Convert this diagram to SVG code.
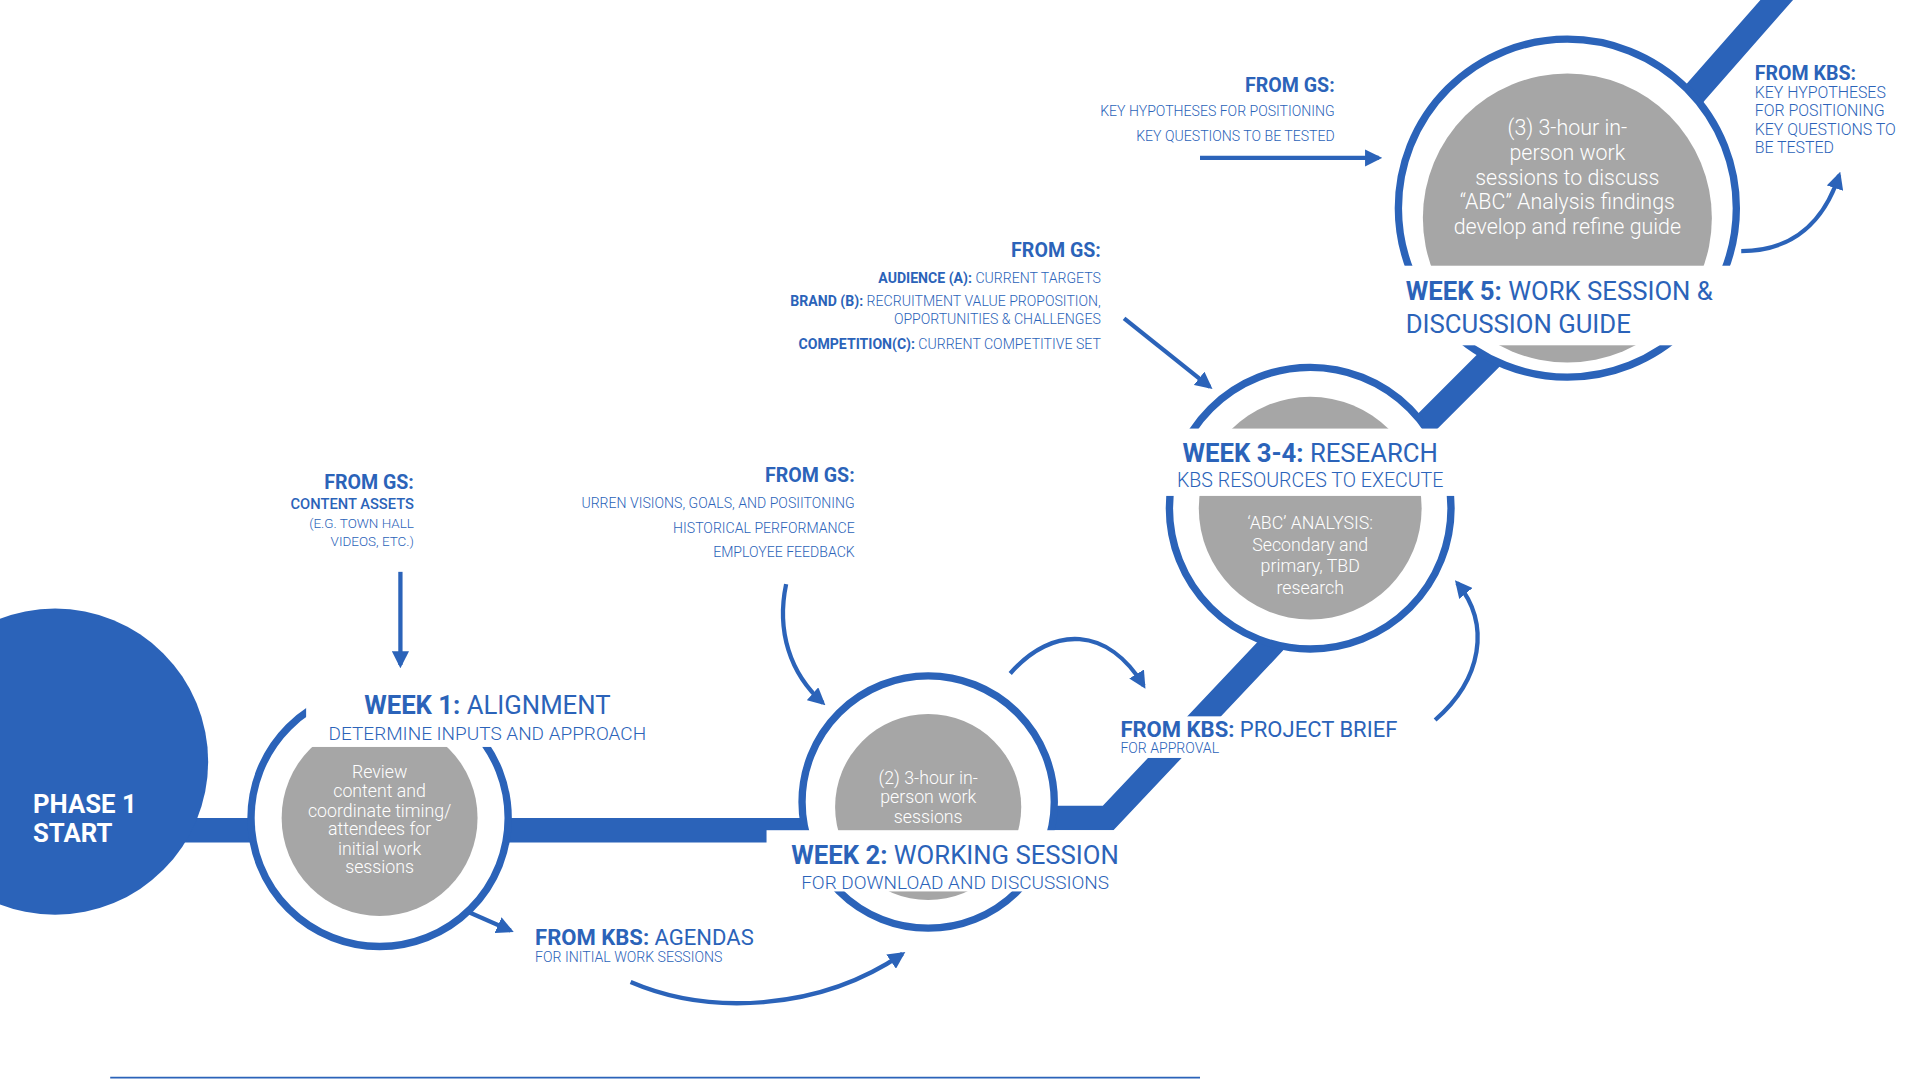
<svg xmlns="http://www.w3.org/2000/svg" width="1920" height="1080" viewBox="0 0 1920 1080">
<defs>
<marker id="ah" viewBox="0 0 10 10" refX="8" refY="5" markerWidth="4" markerHeight="4" orient="auto" markerUnits="strokeWidth"><path d="M0,0 L10,5 L0,10 Z" fill="#2b63b9"/></marker>
<style>
text{font-family:Roboto,"Liberation Sans",sans-serif;fill:#2b63b9}
.b{font-weight:700}
.l{font-weight:300}
.ring{fill:#fff;stroke:#2b63b9;stroke-width:6}
.disc{fill:#a6a6a6}
.wt{fill:#fff;font-weight:300}
.arr{fill:none;stroke:#2b63b9;stroke-width:3.5;marker-end:url(#ah)}
.r{text-anchor:end}
.c{text-anchor:middle}
</style>
</defs>
<rect width="1920" height="1080" fill="#fff"/>
<g transform="scale(1.2245)">
<g id="track">
<path d="M150,678 H660 M855,668 H905 L1040,525 L1165,345 L1225,285 L1385,75 L1458,-8" fill="none" stroke="#2b63b9" stroke-width="20"/>
</g>
<g id="phase1">
<circle cx="45" cy="622" r="125" fill="#2b63b9"/>
<text x="27" y="664" class="b" font-size="21" style="fill:#fff">PHASE 1</text>
<text x="27" y="688" class="b" font-size="21" style="fill:#fff">START</text>
</g>
<g id="week1">
<circle cx="310" cy="668" r="105" class="ring"/>
<circle cx="310" cy="668" r="80" class="disc"/>
<rect x="250" y="558" width="300" height="52" fill="#fff"/>
<text x="398" y="583" class="c" font-size="21"><tspan class="b">WEEK 1:</tspan> ALIGNMENT</text>
<text x="398" y="604" class="c l" font-size="15.5">DETERMINE INPUTS AND APPROACH</text>
<g class="wt" font-size="14.5" text-anchor="middle">
<text x="310" y="635" class="wt">Review</text>
<text x="310" y="651" class="wt">content and</text>
<text x="310" y="667" class="wt">coordinate timing/</text>
<text x="310" y="682" class="wt">attendees for</text>
<text x="310" y="698" class="wt">initial work</text>
<text x="310" y="713" class="wt">sessions</text>
</g>
</g>
<g id="week2">
<circle cx="758" cy="655" r="103" class="ring"/>
<circle cx="758" cy="659" r="76" class="disc"/>
<rect x="626" y="678" width="306" height="50" fill="#fff"/>
<text x="780" y="706" class="c" font-size="21"><tspan class="b">WEEK 2:</tspan> WORKING SESSION</text>
<text x="780" y="726" class="c l" font-size="15.5">FOR DOWNLOAD AND DISCUSSIONS</text>
<g font-size="14.5" text-anchor="middle">
<text x="758" y="640" class="wt">(2) 3-hour in-</text>
<text x="758" y="656" class="wt">person work</text>
<text x="758" y="672" class="wt">sessions</text>
</g>
</g>
<g id="week34">
<circle cx="1070" cy="415" r="115" class="ring"/>
<circle cx="1070" cy="415" r="91" class="disc"/>
<rect x="943" y="350" width="254" height="55" fill="#fff"/>
<text x="1070" y="377" class="c" font-size="21"><tspan class="b">WEEK 3-4:</tspan> RESEARCH</text>
<text x="1070" y="398" class="c l" font-size="16">KBS RESOURCES  TO EXECUTE</text>
<g font-size="14.5" text-anchor="middle">
<text x="1070" y="432" class="wt">‘ABC’ ANALYSIS:</text>
<text x="1070" y="450" class="wt">Secondary and</text>
<text x="1070" y="467" class="wt">primary, TBD</text>
<text x="1070" y="485" class="wt">research</text>
</g>
</g>
<g id="week5">
<circle cx="1280" cy="170" r="138" class="ring"/>
<circle cx="1280" cy="178" r="118" class="disc"/>
<rect x="1132" y="217" width="300" height="65" fill="#fff"/>
<text x="1148" y="245" font-size="21"><tspan class="b">WEEK 5:</tspan> WORK SESSION &amp;</text>
<text x="1148" y="272" font-size="21">DISCUSSION GUIDE</text>
<g font-size="17.5" text-anchor="middle">
<text x="1280" y="110" class="wt">(3) 3-hour in-</text>
<text x="1280" y="131" class="wt">person work</text>
<text x="1280" y="151" class="wt">sessions to discuss</text>
<text x="1280" y="171" class="wt">“ABC” Analysis findings</text>
<text x="1280" y="191" class="wt">develop and refine guide</text>
</g>
</g>
<g id="gs-week1">
<text x="338" y="399" class="r b" font-size="16">FROM GS:</text>
<text x="338" y="416" class="r" font-size="12" font-weight="500">CONTENT ASSETS</text>
<text x="338" y="431" class="r l" font-size="11">(E.G. TOWN HALL</text>
<text x="338" y="446" class="r l" font-size="11">VIDEOS, ETC.)</text>
</g>
<g id="gs-week2">
<text x="698" y="394" class="r b" font-size="16">FROM GS:</text>
<text x="698" y="415" class="r l" font-size="11.5">URREN VISIONS, GOALS, AND POSIITONING</text>
<text x="698" y="435" class="r l" font-size="11.5">HISTORICAL PERFORMANCE</text>
<text x="698" y="455" class="r l" font-size="11.5">EMPLOYEE FEEDBACK</text>
</g>
<g id="gs-week34">
<text x="899" y="210" class="r b" font-size="16">FROM GS:</text>
<text x="899" y="231" class="r l" font-size="11.5"><tspan font-weight="700">AUDIENCE (A):</tspan> CURRENT TARGETS</text>
<text x="899" y="250" class="r l" font-size="11.5"><tspan font-weight="700">BRAND (B):</tspan> RECRUITMENT VALUE PROPOSITION,</text>
<text x="899" y="265" class="r l" font-size="11.5">OPPORTUNITIES &amp; CHALLENGES</text>
<text x="899" y="285" class="r l" font-size="11.5"><tspan font-weight="700">COMPETITION(C):</tspan>  CURRENT COMPETITIVE SET</text>
</g>
<g id="gs-week5">
<text x="1090" y="75" class="r b" font-size="16">FROM GS:</text>
<text x="1090" y="95" class="r l" font-size="11.5">KEY HYPOTHESES FOR POSITIONING</text>
<text x="1090" y="115" class="r l" font-size="11.5">KEY QUESTIONS TO BE TESTED</text>
</g>
<g id="kbs-week5">
<text x="1433" y="65" class="b" font-size="16">FROM KBS:</text>
<text x="1433" y="80" class="l" font-size="13">KEY HYPOTHESES</text>
<text x="1433" y="95" class="l" font-size="13">FOR POSITIONING</text>
<text x="1433" y="110" class="l" font-size="13">KEY QUESTIONS TO</text>
<text x="1433" y="125" class="l" font-size="13">BE TESTED</text>
</g>
<g id="kbs-agendas">
<text x="437" y="772" font-size="18"><tspan class="b">FROM KBS:</tspan> AGENDAS</text>
<text x="437" y="786" class="l" font-size="11.5">FOR INITIAL WORK SESSIONS</text>
</g>
<g id="kbs-brief">
<rect x="910" y="585" width="255" height="34" fill="#fff"/>
<text x="915" y="602" font-size="18"><tspan class="b">FROM KBS:</tspan> PROJECT BRIEF</text>
<text x="915" y="615" class="l" font-size="11.5">FOR APPROVAL</text>
</g>
<g id="connectors">
<path class="arr" d="M327,467 V543"/>
<path class="arr" d="M642,477 C634,515 645,550 672,574"/>
<path class="arr" d="M825,550 C860,510 905,512 934,560"/>
<path class="arr" d="M383,745 L417,760"/>
<path class="arr" d="M515,802 C580,830 670,825 737,779"/>
<path class="arr" d="M1172,588 C1210,555 1218,510 1190,476"/>
<path class="arr" d="M918,260 L988,316"/>
<path class="arr" d="M980,129 H1126"/>
<path class="arr" d="M1422,205 C1465,205 1490,180 1502,143"/>
<line x1="90" y1="880" x2="980" y2="880" stroke="#2b63b9" stroke-width="1.5"/>
</g>
</g>
</svg>
